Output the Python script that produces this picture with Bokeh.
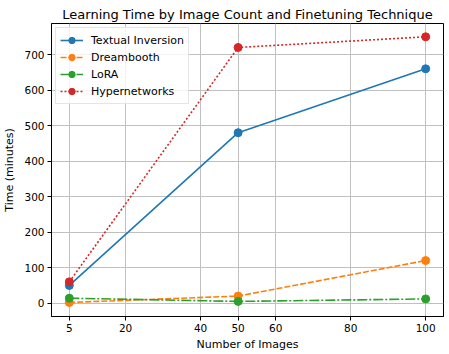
from bokeh.plotting import figure
from bokeh.models import Range1d, FixedTicker, Legend, LegendItem
from bokeh.embed import file_html
from bokeh.resources import INLINE

x_images = [5, 50, 100]
textual_inversion = [50, 480, 660]
dreambooth = [2, 20, 120]
lora = [14, 5, 12]
hypernetworks = [60, 720, 750]
x_ticks = [5, 20, 40, 50, 60, 80, 100]
y_ticks = [0, 100, 200, 300, 400, 500, 600, 700]

FONT = "DejaVu Sans"

p = figure(width=449, height=354, output_backend="svg", toolbar_location=None,
           x_range=Range1d(0.25, 104.75), y_range=Range1d(-37.5, 787.5),
           min_border_left=50, min_border_right=6, min_border_top=23, min_border_bottom=38,
           title="Learning Time by Image Count and Finetuning Technique")
p.title.align = "center"
p.title.text_font = FONT
p.title.text_font_size = "13px"
p.title.text_font_style = "normal"
p.title.text_color = "black"
p.title.standoff = 4

p.outline_line_color = "black"
p.outline_line_width = 1
p.outline_line_alpha = 1

for ax in (p.xaxis, p.yaxis):
    ax.axis_line_color = "black"
    ax.major_tick_line_color = "black"
    ax.major_tick_out = 4
    ax.major_tick_in = 0
    ax.minor_tick_line_color = None
    ax.major_label_text_font = FONT
    ax.major_label_text_font_size = "10.5px"
    ax.major_label_text_color = "black"
    ax.axis_label_text_font = FONT
    ax.axis_label_text_font_size = "11px"
    ax.axis_label_text_font_style = "normal"
    ax.axis_label_text_color = "black"

p.xaxis.ticker = FixedTicker(ticks=x_ticks)
p.yaxis.ticker = FixedTicker(ticks=y_ticks)
p.xaxis.axis_label = "Number of Images"
p.yaxis.axis_label = "Time (minutes)"
p.xaxis.major_label_standoff = 3
p.yaxis.major_label_standoff = 3
p.xaxis.axis_label_standoff = 3
p.yaxis.axis_label_standoff = 5

p.xgrid.grid_line_color = "#c0c0c0"
p.ygrid.grid_line_color = "#c0c0c0"
p.xgrid.grid_line_width = 1
p.ygrid.grid_line_width = 1

series = [
    ("Textual Inversion", textual_inversion, "#1f77b4", "solid"),
    ("Dreambooth", dreambooth, "#ff7f0e", "6 2"),
    ("LoRA", lora, "#2ca02c", "10 2 2 2"),
    ("Hypernetworks", hypernetworks, "#d62728", "2 2"),
]

items = []
for name, ys, color, dash in series:
    l = p.line(x_images, ys, line_color=color, line_width=1.6, line_dash=dash)
    s = p.scatter(x_images, ys, size=8, fill_color=color, line_color=color, marker="circle")
    items.append(LegendItem(label=name, renderers=[l, s]))

legend = Legend(items=items, location="top_left")
legend.label_text_font = FONT
legend.label_text_font_size = "11px"
legend.label_text_color = "black"
legend.glyph_width = 23
legend.glyph_height = 16
legend.label_height = 16
legend.spacing = 1
legend.padding = 4
legend.margin = 4
legend.label_standoff = 8
legend.border_line_color = "#cccccc"
legend.border_line_width = 1
legend.background_fill_alpha = 0.8
p.add_layout(legend)

open("out.html", "w").write(file_html(p, INLINE))
